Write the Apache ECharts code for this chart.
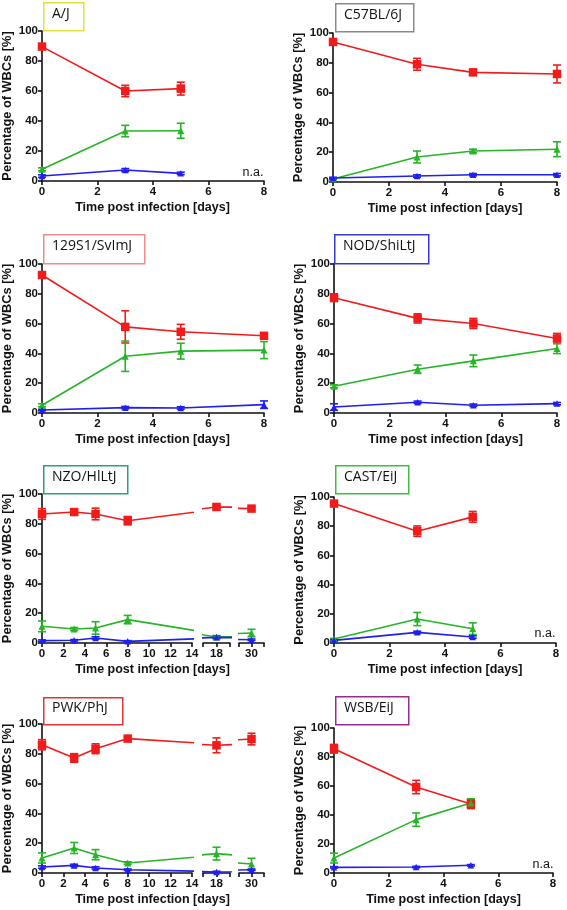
<!DOCTYPE html>
<html><head><meta charset="utf-8">
<script src="https://cdn.jsdelivr.net/npm/echarts@6/dist/echarts.min.js"></script>
<style>html,body{margin:0;padding:0;background:#fff}#c{width:567px;height:910px}</style>
</head><body><div id="c"></div>
<script>
// ---------- DATA ----------
const strains = ['A/J','C57BL/6J','129S1/SvImJ','NOD/ShiLtJ','NZO/HlLtJ','CAST/EiJ','PWK/PhJ','WSB/EiJ'];
const xTickLabels = ['0','2','4','6','8'];
const xTickLabelsBroken = ['0','2','4','6','8','10','12','14','18','30'];
const yTickLabels = ['0','20','40','60','80','100'];

const daysAJ   = [0,3,5];
const redAJ    = [89.6,60.0,61.6];  const redErrAJ   = [1.5,3.8,4.3];
const greenAJ  = [7.8,33.3,33.5];   const greenErrAJ = [1.0,3.8,5.0];
const blueAJ   = [3.3,7.3,5.1];     const blueErrAJ  = [0.8,1.0,0.8];

const daysC57  = [0,3,5,8];
const redC57   = [94.0,79.0,73.6,72.5]; const redErrC57 = [1.5,4.0,1.2,6.0];
const greenC57 = [2.0,16.8,20.8,22.0];  const greenErrC57 = [0.5,4.0,1.2,5.0];
const blueC57  = [2.7,4.0,4.9,4.9];     const blueErrC57 = [0.5,0.8,0.8,0.8];

const days129  = [0,3,5,8];
const red129   = [92.6,57.8,54.5,51.8]; const redErr129 = [1.5,10.8,5.0,2.0];
const green129 = [5.2,38.1,41.5,42.2];  const greenErr129 = [1.0,10.2,5.3,5.7];
const blue129  = [2.0,3.6,3.4,5.6];     const blueErr129 = [0.5,0.8,0.8,2.5];

const daysNOD  = [0,3,5,8];
const redNOD   = [77.4,63.5,60.1,50.0]; const redErrNOD = [2.6,3.1,3.4,3.4];
const greenNOD = [17.9,29.4,35.0,43.3]; const greenErrNOD = [1.0,2.8,3.9,3.4];
const blueNOD  = [4.0,7.2,5.2,6.3];     const blueErrNOD = [2.2,0.8,0.8,0.8];

const daysNZO  = [0,3,5,8,18,30];
const redNZO   = [86.6,87.9,86.6,82.1,91.3,90.2]; const redErrNZO = [3.6,1.0,3.9,2.8,1.0,1.0];
const greenNZO = [11.2,9.4,10.1,15.7,4.0,6.7];    const greenErrNZO = [3.6,1.0,4.2,2.8,1.0,2.5];
const blueNZO  = [1.6,1.8,3.4,1.1,3.8,2.2];       const blueErrNZO = [0.5,0.5,0.8,0.5,0.8,0.5];

const daysCAST  = [0,3,5];
const redCAST   = [95.5,76.6,86.4]; const redErrCAST = [1.0,3.6,3.7];
const greenCAST = [2.7,16.4,9.8];   const greenErrCAST = [0.5,4.5,4.0];
const blueCAST  = [1.8,7.3,4.1];    const blueErrCAST = [0.5,0.8,0.8];

const daysPWK  = [0,3,5,8,18,30];
const redPWK   = [86.1,77.2,83.4,90.2,85.7,89.9]; const redErrPWK = [3.4,2.9,3.3,1.0,5.0,3.9];
const greenPWK = [10.1,16.8,12.3,6.7,13.0,6.0];   const greenErrPWK = [3.4,3.7,3.4,0.8,4.3,3.9];
const bluePWK  = [4.0,5.1,3.4,2.2,0.7,2.2];       const blueErrPWK = [0.8,0.8,0.8,0.5,0.5,0.5];

const daysWSB  = [0,3,5];
const redWSB   = [85.7,59.3,47.6]; const redErrWSB = [3.0,4.6,3.2];
const greenWSB = [10.3,36.8,48.3]; const greenErrWSB = [3.4,4.6,2.9];
const blueWSB  = [3.9,4.1,5.3];    const blueErrWSB = [0.5,0.5,0.5];

const naLabel = 'n.a.';

// ---------- LAYOUT / STYLE ----------
const RED = '#f21b1b', GREEN = '#26b526', BLUE = '#1f1ff2';
const FONT = '"Liberation Sans", Arial, sans-serif';
const BOXFONT = '"Open Sans", "Noto Sans", sans-serif';

const panels = [
  {name:strains[0], d:daysAJ, r:[redAJ,redErrAJ], g:[greenAJ,greenErrAJ], b:[blueAJ,blueErrAJ],
   L:41, R:264, T:31, B:181, box:[43,2,40,28,'#e6df3a'], na:[253,173]},
  {name:strains[1], d:daysC57, r:[redC57,redErrC57], g:[greenC57,greenErrC57], b:[blueC57,blueErrC57],
   L:333, R:557, T:33, B:182, box:[335,3,78,28,'#8a8a8a']},
  {name:strains[2], d:days129, r:[red129,redErr129], g:[green129,greenErr129], b:[blue129,blueErr129],
   L:41, R:264, T:264, B:413, box:[43,234,101,29,'#ee8c8c']},
  {name:strains[3], d:daysNOD, r:[redNOD,redErrNOD], g:[greenNOD,greenErrNOD], b:[blueNOD,blueErrNOD],
   L:334, R:557, T:264, B:413, box:[334,234,94,29,'#3838d0']},
  {name:strains[4], d:daysNZO, r:[redNZO,redErrNZO], g:[greenNZO,greenErrNZO], b:[blueNZO,blueErrNZO],
   L:41, R:264, T:494, B:643, box:[43,465,84,28,'#2f9d86'], broken:true},
  {name:strains[5], d:daysCAST, r:[redCAST,redErrCAST], g:[greenCAST,greenErrCAST], b:[blueCAST,blueErrCAST],
   L:334, R:556, T:497, B:643, box:[335,465,73,28,'#3cbf3c'], na:[545,634]},
  {name:strains[6], d:daysPWK, r:[redPWK,redErrPWK], g:[greenPWK,greenErrPWK], b:[bluePWK,blueErrPWK],
   L:41, R:264, T:724, B:873, box:[43,697,79,27,'#e23434'], broken:true},
  {name:strains[7], d:daysWSB, r:[redWSB,redErrWSB], g:[greenWSB,greenErrWSB], b:[blueWSB,blueErrWSB],
   L:334, R:553, T:728, B:873, box:[335,696,73,28,'#9b2a8c'], na:[543,865]}
];

const grid = [], xAxis = [], yAxis = [], series = [], graphic = [];
const axisLineStyle = {color:'#111', width:1.6};
const labelStyle = {color:'#111', fontFamily:FONT, fontWeight:'bold', fontSize:11.5};

function errSeries(idx, days, vals, errs, color, seg) {
  const data = [];
  days.forEach((d,i)=>{ if (d>=seg.min && d<=seg.max) data.push([d, vals[i]-errs[i], vals[i]+errs[i]]); });
  return {
    type:'custom', xAxisIndex:idx, yAxisIndex:idx, data, silent:true, z:3,
    renderItem(params, api) {
      const x = api.value(0);
      const lo = api.coord([x, api.value(1)]), hi = api.coord([x, api.value(2)]);
      const w = 4, st = {stroke:color, lineWidth:1.6};
      return {type:'group', children:[
        {type:'line', shape:{x1:lo[0],y1:lo[1],x2:hi[0],y2:hi[1]}, style:st},
        {type:'line', shape:{x1:lo[0]-w,y1:lo[1],x2:lo[0]+w,y2:lo[1]}, style:st},
        {type:'line', shape:{x1:hi[0]-w,y1:hi[1],x2:hi[0]+w,y2:hi[1]}, style:st}
      ]};
    }
  };
}

panels.forEach(p => {
  const segs = p.broken ? [
    {min:0, max:14, interval:2, left:p.L, right:192, first:true},
    {min:16.8, max:19.2, interval:1.2, left:203, right:230, only:18},
    {min:28.8, max:31.2, interval:1.2, left:239, right:264, only:30}
  ] : [{min:0, max:8, interval:2, left:p.L, right:p.R, first:true}];

  segs.forEach(seg => {
    const idx = grid.length;
    grid.push({left:seg.left, width:seg.right-seg.left, top:p.T, height:p.B-p.T, containLabel:false});
    xAxis.push({
      type:'value', gridIndex:idx, min:seg.min, max:seg.max, interval:seg.interval,
      axisLine:{show:true, onZero:false, lineStyle:axisLineStyle},
      axisTick:{show:true, length:4, lineStyle:axisLineStyle},
      splitLine:{show:false},
      axisLabel:Object.assign({margin:5, formatter:v=>{
        if (seg.only !== undefined) return Math.abs(v-seg.only)<0.01 ? String(seg.only) : '';
        return String(Math.round(v));
      }, showMinLabel:true, showMaxLabel:true, hideOverlap:false}, labelStyle)
    });
    yAxis.push({
      type:'value', gridIndex:idx, min:0, max:100, interval:20, show:!!seg.first,
      axisLine:{show:true, lineStyle:axisLineStyle},
      axisTick:{show:true, length:4, lineStyle:axisLineStyle},
      splitLine:{show:false},
      axisLabel:Object.assign({margin:4}, labelStyle),
      name: seg.first ? 'Percentage of WBCs [%]' : '',
      nameLocation:'middle', nameGap:28,
      nameTextStyle:{color:'#111', fontFamily:FONT, fontWeight:'bold', fontSize:12.8}
    });
    const sets = [
      [p.r, RED, 'rect', 8.5, 'Series A'],
      [p.g, GREEN, 'triangle', 7, 'Series B'],
      [p.b, BLUE, 'triangle', 6.5, 'Series C']
    ];
    sets.forEach(([vs,color,sym,sz,nm]) => {
      series.push({
        type:'line', name:nm, xAxisIndex:idx, yAxisIndex:idx, clip:true,
        data:p.d.map((d,i)=>[d, vs[0][i]]),
        symbol:sym, symbolSize:sz, showAllSymbol:true,
        lineStyle:{color, width:1.6}, itemStyle:{color, opacity:1}, z:4, silent:true
      });
      series.push(errSeries(idx, p.d, vs[0], vs[1], color, seg));
    });
  });
  // x-axis name spanning the full panel width
  const nidx = grid.length;
  grid.push({left:p.L, width:(p.broken?264:p.R)-p.L, top:p.T, height:p.B-p.T});
  xAxis.push({type:'value', gridIndex:nidx, min:0, max:1, axisLine:{show:false}, axisTick:{show:false},
    axisLabel:{show:false}, splitLine:{show:false},
    name:'Time post infection [days]', nameLocation:'middle', nameGap:20,
    nameTextStyle:{color:'#111', fontFamily:FONT, fontWeight:'bold', fontSize:12.5}});
  yAxis.push({type:'value', gridIndex:nidx, min:0, max:1, show:false});

  // strain label box
  const [bx,by,bw,bh,bc] = p.box;
  graphic.push({type:'rect', left:bx, top:by, shape:{width:bw, height:bh},
    style:{fill:'#fff', stroke:bc, lineWidth:1.5}, z:10});
  graphic.push({type:'text', left:bx+9, top:by+bh/2-9,
    style:{text:p.name, fill:'#111', font:'14px '+BOXFONT}, z:11});
  if (p.na) {
    graphic.push({type:'text', x:p.na[0], y:p.na[1],
      style:{text:naLabel, fill:'#111', font:'12.5px '+FONT, textAlign:'center', textVerticalAlign:'middle'}, z:11});
  }
});

const chart = echarts.init(document.getElementById('c'), null, {renderer:'canvas'});
chart.setOption({animation:false, backgroundColor:'#fff', grid, xAxis, yAxis, series, graphic});
</script></body></html>
